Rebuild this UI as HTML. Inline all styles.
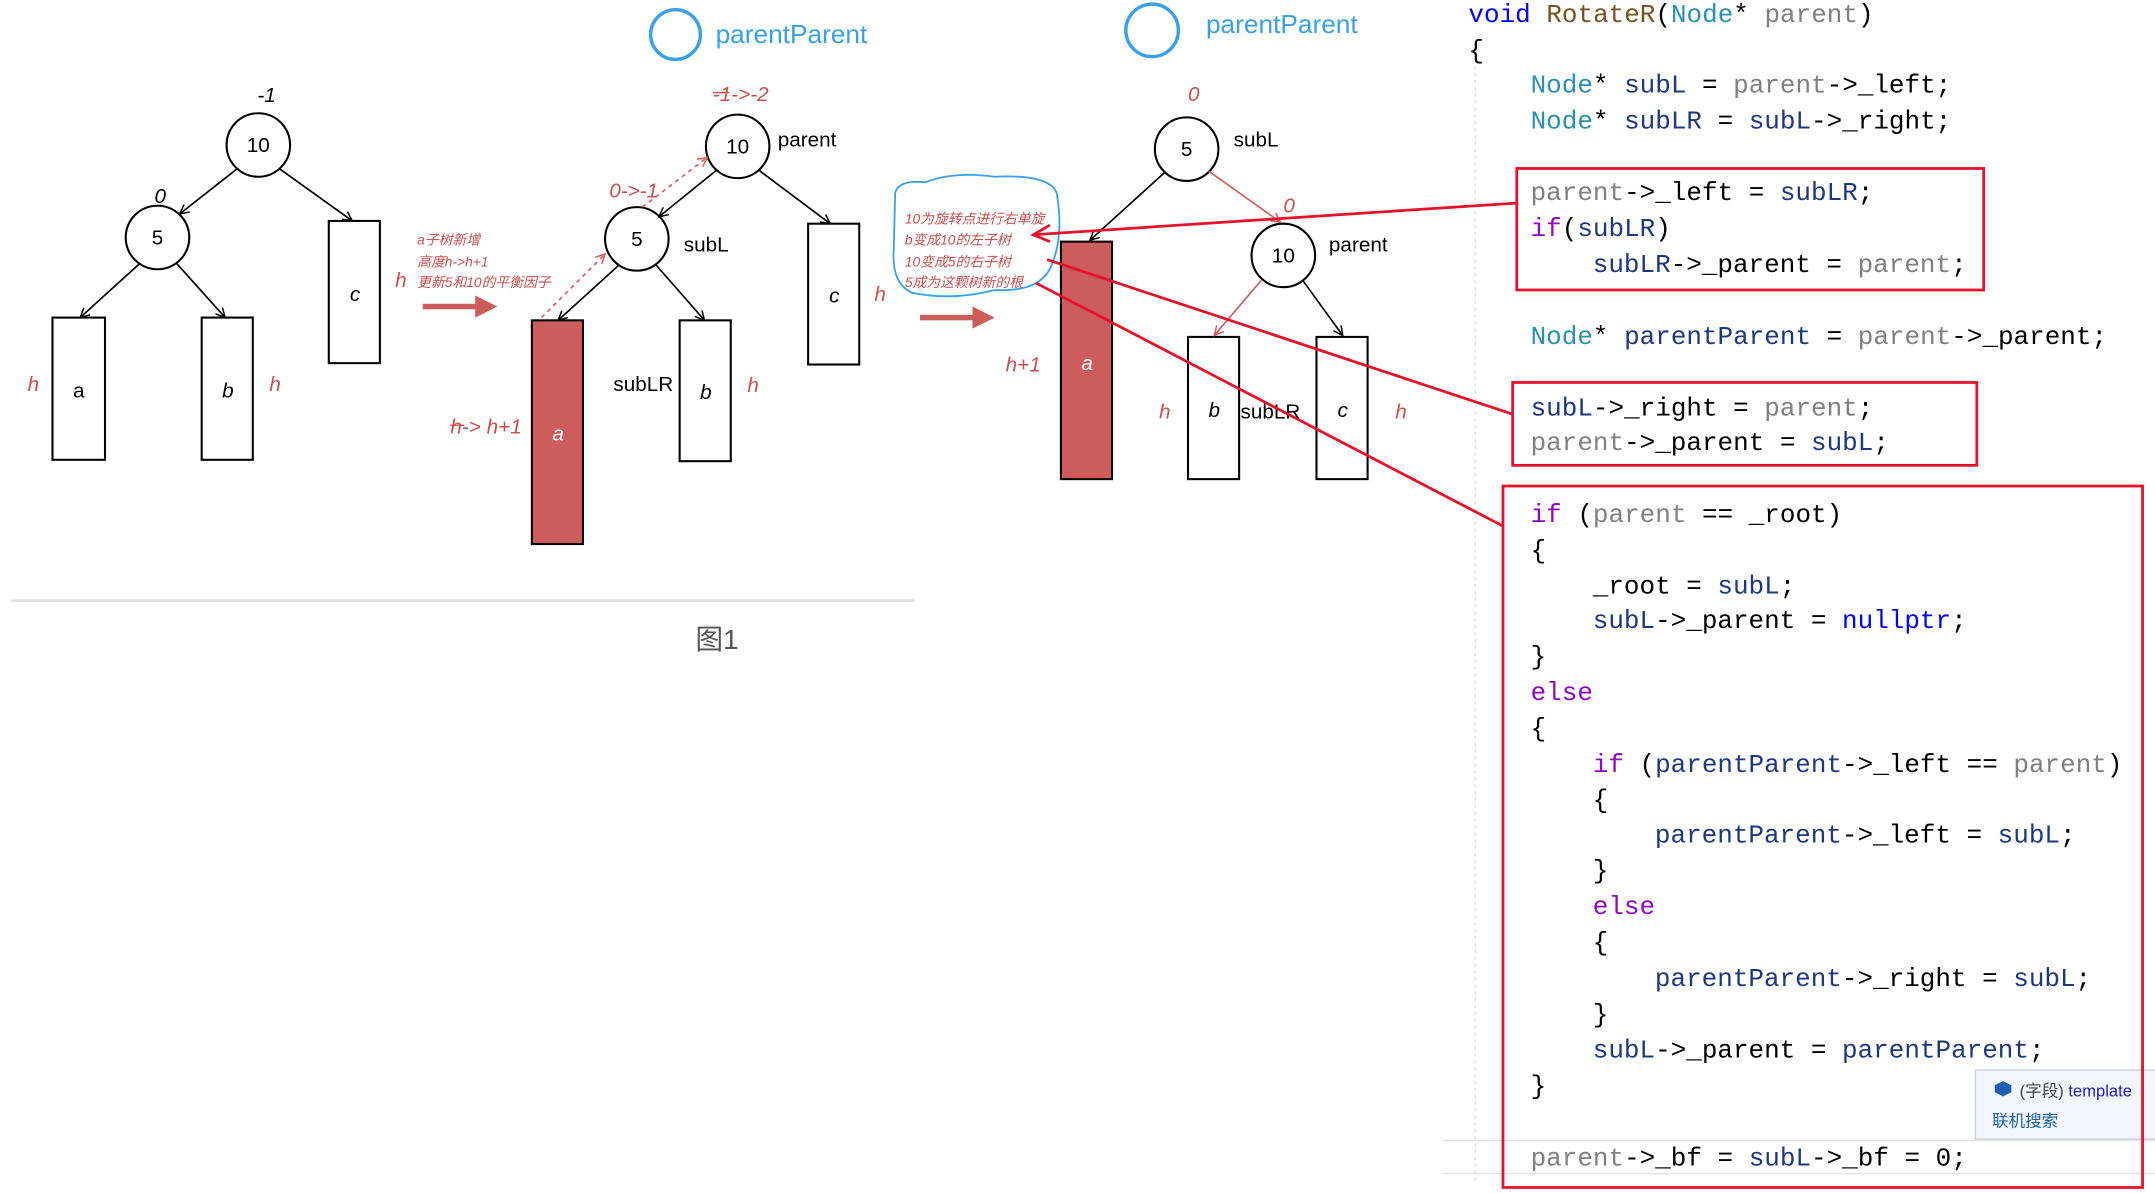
<!DOCTYPE html>
<html><head><meta charset="utf-8"><style>
html,body{margin:0;padding:0;background:#fff;}
svg{display:block}
.m{font-family:"Liberation Mono",monospace;font-size:18.8px;}
.s{font-family:"Liberation Sans","Noto Sans CJK SC",sans-serif;}
.r{fill:#c85050;font-style:italic;}
</style></head><body>
<svg width="2155" height="1193" viewBox="0 0 1560 864" preserveAspectRatio="none" xmlns="http://www.w3.org/2000/svg">
<defs>
<marker id="ah" viewBox="0 0 10 10" refX="9" refY="5" markerWidth="7" markerHeight="7" orient="auto"><path d="M1,1 L9,5 L1,9" fill="none" stroke="#000" stroke-width="1.3"/></marker>
<marker id="ahr" viewBox="0 0 10 10" refX="9" refY="5" markerWidth="7" markerHeight="7" orient="auto"><path d="M1,1 L9,5 L1,9" fill="none" stroke="#d06060" stroke-width="1.3"/></marker>
</defs>
<rect width="1560" height="864" fill="#fff"/>
<g class="s" font-size="15" fill="none" stroke="#000" stroke-width="1.5">
<circle cx="187" cy="105" r="23"/><circle cx="114" cy="172" r="23"/>
<rect x="38" y="230" width="38" height="103"/><rect x="146" y="230" width="37" height="103"/><rect x="238" y="160" width="37" height="103"/>
<line x1="172" y1="122" x2="130" y2="155" marker-end="url(#ah)" stroke-width="1.2"/>
<line x1="202" y1="122" x2="255" y2="160" marker-end="url(#ah)" stroke-width="1.2"/>
<line x1="101" y1="191" x2="58" y2="230" marker-end="url(#ah)" stroke-width="1.2"/>
<line x1="128" y1="191" x2="163" y2="230" marker-end="url(#ah)" stroke-width="1.2"/>
<circle cx="534" cy="106" r="23"/><circle cx="461" cy="173" r="23"/>
<rect x="385" y="232" width="37" height="162" fill="#cd5c5c"/><rect x="492" y="232" width="37" height="102"/><rect x="585" y="162" width="37" height="102"/>
<line x1="519" y1="123" x2="477" y2="157" marker-end="url(#ah)" stroke-width="1.2"/>
<line x1="549" y1="123" x2="601" y2="162" marker-end="url(#ah)" stroke-width="1.2"/>
<line x1="448" y1="192" x2="404" y2="232" marker-end="url(#ah)" stroke-width="1.2"/>
<line x1="475" y1="192" x2="510" y2="232" marker-end="url(#ah)" stroke-width="1.2"/>
<line x1="392" y1="230" x2="438" y2="184" stroke="#d06060" stroke-dasharray="3,3" marker-end="url(#ahr)" stroke-width="1.2"/>
<line x1="465" y1="150" x2="512" y2="114" stroke="#d06060" stroke-dasharray="3,3" marker-end="url(#ahr)" stroke-width="1.2"/>
<circle cx="859" cy="108" r="23"/><circle cx="929" cy="185" r="23"/>
<rect x="768" y="175" width="37" height="172" fill="#cd5c5c"/><rect x="860" y="244" width="37" height="103"/><rect x="953" y="244" width="37" height="103"/>
<line x1="843" y1="125" x2="789" y2="174" marker-end="url(#ah)" stroke-width="1.2"/>
<line x1="875" y1="124" x2="927" y2="161" stroke="#d06060" stroke-width="1.2" marker-end="url(#ahr)"/>
<line x1="913" y1="203" x2="879" y2="243" stroke="#d06060" stroke-width="1.2" marker-end="url(#ahr)"/>
<line x1="943" y1="203" x2="972" y2="243" marker-end="url(#ah)" stroke-width="1.2"/>
<circle cx="489" cy="25" r="18" stroke="#3aa0e8" stroke-width="2.5"/>
<circle cx="834" cy="22" r="19" stroke="#3aa0e8" stroke-width="2.5"/>
<path d="M648,140 Q650,130 670,132 Q690,124 720,128 Q760,126 765,140 Q770,170 762,190 Q755,212 720,210 Q690,218 660,212 Q645,205 647,180 Z" stroke="#3aa0e8" stroke-width="1.3"/>
</g>
<g fill="#cd5c5c">
<rect x="306" y="220" width="40" height="4"/><polygon points="344,214 360,222 344,230"/>
<rect x="666" y="228" width="40" height="4"/><polygon points="704,222 720,230 704,238"/>
</g>
<line x1="8" y1="435" x2="662" y2="435" stroke="#e0e0e0" stroke-width="2"/>
<text x="519" y="470" class="s" font-size="20" fill="#555" text-anchor="middle">图1</text>
<g class="s" font-size="15" text-anchor="middle">
<text x="187" y="110">10</text><text x="114" y="177">5</text>
<text x="57" y="288">a</text><text x="165" y="288" font-style="italic">b</text><text x="257" y="218" font-style="italic">c</text>
<text x="193" y="74" font-style="italic">-1</text><text x="116" y="147" font-style="italic">0</text>
<text x="534" y="111">10</text><text x="461" y="178">5</text>
<text x="404" y="319" fill="#fff" font-style="italic">a</text><text x="511" y="289" font-style="italic">b</text><text x="604" y="219" font-style="italic">c</text>
<text x="859" y="113">5</text><text x="929" y="190">10</text>
<text x="787" y="268" fill="#fff" font-style="italic">a</text><text x="879" y="302" font-style="italic">b</text><text x="972" y="302" font-style="italic">c</text>
</g>
<g class="s" font-size="15">
<text x="563" y="106">parent</text><text x="495" y="182">subL</text><text x="444" y="283">subLR</text>
<text x="893" y="106">subL</text><text x="962" y="182">parent</text><text x="898" y="303">subLR</text>
</g>
<g class="s r" font-size="15">
<text x="20" y="283">h</text><text x="195" y="283">h</text><text x="286" y="208">h</text>
<text x="541" y="284">h</text><text x="633" y="218">h</text><text x="326" y="314">h-&gt; h+1</text>
<text x="516" y="73">-1-&gt;-2</text><text x="441" y="143">0-&gt;-1</text>
<text x="860" y="73">0</text><text x="929" y="154">0</text>
<text x="728" y="269">h+1</text><text x="839" y="303">h</text><text x="1010" y="303">h</text>
</g>
<line x1="326" y1="308" x2="336" y2="308" stroke="#c85050"/>
<line x1="516" y1="67" x2="528" y2="67" stroke="#c85050"/>
<g class="s r" font-size="10">
<text x="302" y="177">a子树新增</text><text x="302" y="193">高度h-&gt;h+1</text><text x="302" y="208">更新5和10的平衡因子</text>
<text x="655" y="162">10为旋转点进行右单旋</text><text x="655" y="177">b变成10的左子树</text><text x="655" y="193">10变成5的右子树</text><text x="655" y="208">5成为这颗树新的根</text>
</g>
<g class="s" font-size="19" fill="#3aa0e8"><text x="518" y="31">parentParent</text><text x="873" y="24">parentParent</text></g>
<line x1="1068" y1="48" x2="1068" y2="856" stroke="#ddd" stroke-dasharray="2,3"/>
<line x1="1044" y1="826" x2="1560" y2="826" stroke="#e4e4e4"/>
<line x1="1044" y1="850" x2="1560" y2="850" stroke="#e4e4e4"/>
<g class="m" fill="#1f377f" xml:space="preserve" transform="translate(-4,-1)">
<text x="1067" y="17"><tspan fill="#0000ff">void</tspan> <tspan fill="#74531f">RotateR</tspan><tspan fill="#000">(</tspan><tspan fill="#2b91af">Node</tspan><tspan fill="#000">*</tspan> <tspan fill="#808080">parent</tspan><tspan fill="#000">)</tspan></text>
<text x="1067" y="43" fill="#000">{</text>
<text x="1112" y="68"><tspan fill="#2b91af">Node</tspan><tspan fill="#000">*</tspan> subL <tspan fill="#000">=</tspan> <tspan fill="#808080">parent</tspan><tspan fill="#000">-&gt;_left;</tspan></text>
<text x="1112" y="94"><tspan fill="#2b91af">Node</tspan><tspan fill="#000">*</tspan> subLR <tspan fill="#000">=</tspan> subL<tspan fill="#000">-&gt;_right;</tspan></text>
<text x="1112" y="146"><tspan fill="#808080">parent</tspan><tspan fill="#000">-&gt;_left =</tspan> subLR<tspan fill="#000">;</tspan></text>
<text x="1112" y="172"><tspan fill="#8f08c4">if</tspan><tspan fill="#000">(</tspan>subLR<tspan fill="#000">)</tspan></text>
<text x="1157" y="198">subLR<tspan fill="#000">-&gt;_parent =</tspan> <tspan fill="#808080">parent</tspan><tspan fill="#000">;</tspan></text>
<text x="1112" y="250"><tspan fill="#2b91af">Node</tspan><tspan fill="#000">*</tspan> parentParent <tspan fill="#000">=</tspan> <tspan fill="#808080">parent</tspan><tspan fill="#000">-&gt;_parent;</tspan></text>
<text x="1112" y="302">subL<tspan fill="#000">-&gt;_right =</tspan> <tspan fill="#808080">parent</tspan><tspan fill="#000">;</tspan></text>
<text x="1112" y="327"><tspan fill="#808080">parent</tspan><tspan fill="#000">-&gt;_parent =</tspan> subL<tspan fill="#000">;</tspan></text>
<text x="1112" y="379"><tspan fill="#8f08c4">if</tspan> <tspan fill="#000">(</tspan><tspan fill="#808080">parent</tspan> <tspan fill="#000">== _root)</tspan></text>
<text x="1112" y="405" fill="#000">{</text>
<text x="1157" y="431"><tspan fill="#000">_root =</tspan> subL<tspan fill="#000">;</tspan></text>
<text x="1157" y="456">subL<tspan fill="#000">-&gt;_parent =</tspan> <tspan fill="#0000ff">nullptr</tspan><tspan fill="#000">;</tspan></text>
<text x="1112" y="482" fill="#000">}</text>
<text x="1112" y="508" fill="#8f08c4">else</text>
<text x="1112" y="534" fill="#000">{</text>
<text x="1157" y="560"><tspan fill="#8f08c4">if</tspan> <tspan fill="#000">(</tspan>parentParent<tspan fill="#000">-&gt;_left ==</tspan> <tspan fill="#808080">parent</tspan><tspan fill="#000">)</tspan></text>
<text x="1157" y="586" fill="#000">{</text>
<text x="1202" y="611">parentParent<tspan fill="#000">-&gt;_left =</tspan> subL<tspan fill="#000">;</tspan></text>
<text x="1157" y="637" fill="#000">}</text>
<text x="1157" y="663" fill="#8f08c4">else</text>
<text x="1157" y="689" fill="#000">{</text>
<text x="1202" y="715">parentParent<tspan fill="#000">-&gt;_right =</tspan> subL<tspan fill="#000">;</tspan></text>
<text x="1157" y="741" fill="#000">}</text>
<text x="1157" y="767">subL<tspan fill="#000">-&gt;_parent =</tspan> parentParent<tspan fill="#000">;</tspan></text>
<text x="1112" y="793" fill="#000">}</text>
<text x="1112" y="845"><tspan fill="#808080">parent</tspan><tspan fill="#000">-&gt;_bf =</tspan> subL<tspan fill="#000">-&gt;_bf = 0;</tspan></text>
</g>
<rect x="1430" y="775" width="135" height="50" fill="#f3f6fb" stroke="#c8d0dc"/>
<path d="M1444,786 l6,-3 l6,3 l0,5 l-6,3 l-6,-3z" fill="#1e5fb4"/>
<text x="1462" y="794" class="s" font-size="12" fill="#444">(字段) <tspan fill="#1a1ad0">template</tspan></text>
<text x="1442" y="816" class="s" font-size="12" fill="#1e5fb4">联机搜索</text>
<g fill="none" stroke="#e8102a" stroke-width="2">
<rect x="1098" y="122" width="338" height="88"/>
<rect x="1095" y="277" width="336" height="60"/>
<rect x="1088" y="352" width="463" height="508"/>
<line x1="1099" y1="147" x2="748" y2="170"/>
<line x1="1095" y1="300" x2="758" y2="188"/>
<line x1="1088" y1="381" x2="750" y2="205"/>
<path d="M760,163 l-12,7 l12,5" />
</g>
</svg>
</body></html>
